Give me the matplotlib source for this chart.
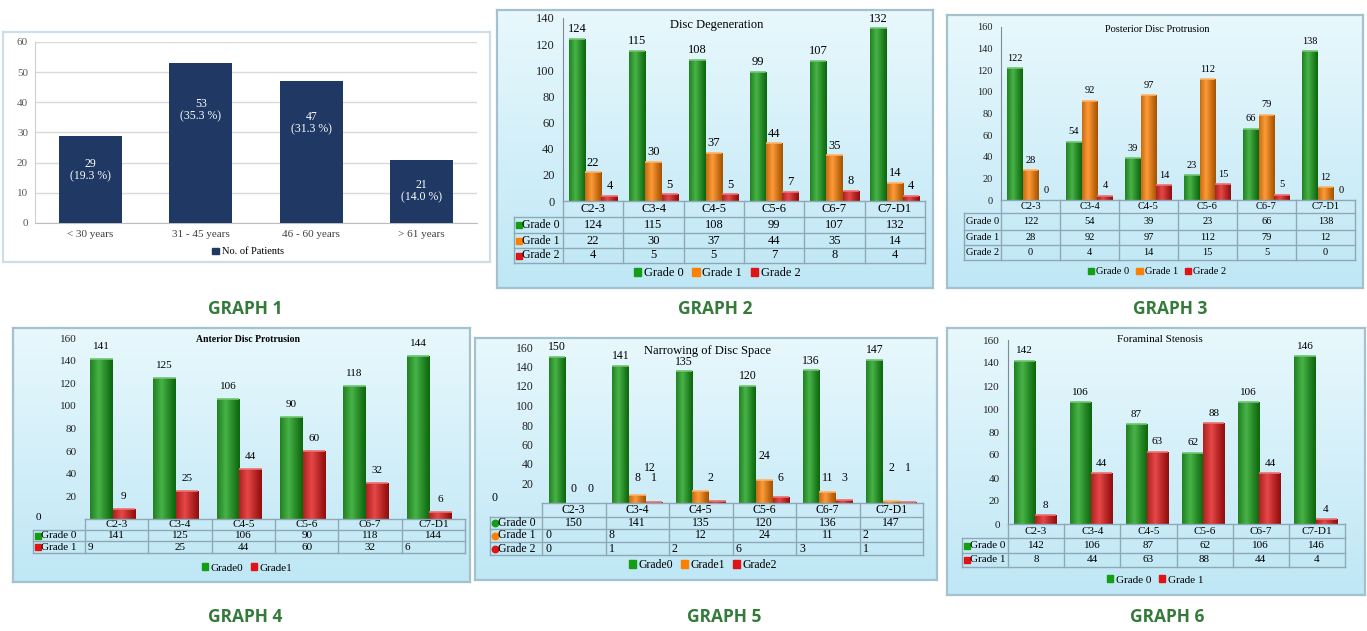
import numpy as np
import matplotlib
matplotlib.use("Agg")
import matplotlib.pyplot as plt
import matplotlib.colors as mcolors
from matplotlib.patches import Patch
from matplotlib.lines import Line2D
from matplotlib.transforms import Affine2D

# ---------------- data ----------------
age_groups = ["< 30 years", "31 - 45 years", "46 - 60 years", "> 61 years"]
patients = [29, 53, 47, 21]
patients_pct = [19.3, 35.3, 31.3, 14.0]

levels = ["C2-3", "C3-4", "C4-5", "C5-6", "C6-7", "C7-D1"]

degen_g0 = [124, 115, 108, 99, 107, 132]
degen_g1 = [22, 30, 37, 44, 35, 14]
degen_g2 = [4, 5, 5, 7, 8, 4]

post_g0 = [122, 54, 39, 23, 66, 138]
post_g1 = [28, 92, 97, 112, 79, 12]
post_g2 = [0, 4, 14, 15, 5, 0]

ant_g0 = [141, 125, 106, 90, 118, 144]
ant_g1 = [9, 25, 44, 60, 32, 6]

narrow_g0 = [150, 141, 135, 120, 136, 147]
narrow_g1 = [0, 8, 12, 24, 11, 2]
narrow_g2 = [0, 1, 2, 6, 3, 1]

foram_g0 = [142, 106, 87, 62, 106, 146]
foram_g1 = [8, 44, 63, 88, 44, 4]

# ---------------- figure helpers ----------------
W, H = 1367, 631
fig = plt.figure(figsize=(W / 100, H / 100), dpi=100)
fig.patch.set_facecolor("white")
PX = Affine2D().scale(1 / W, -1 / H).translate(0, 1) + fig.transFigure

SERIF = "Liberation Serif"
GREEN, ORANGE, RED = "#149e14", "#ff7f00", "#e01414"
LINE = "#8ea9b5"


def frac_rect(x0, y0, x1, y1):
    return [x0 / W, 1 - y1 / H, (x1 - x0) / W, (y1 - y0) / H]


def panel_bg(box, plain=False):
    ax = fig.add_axes(frac_rect(*box), zorder=0)
    if plain:
        ax.set_facecolor("white")
        edge = "#cfdde6"
    else:
        g = np.linspace(0, 1, 256)[:, None, None]
        top = np.array(mcolors.to_rgb("#e8f8fd"))
        bot = np.array(mcolors.to_rgb("#bfe7f5"))
        img = top + (bot - top) * g
        ax.imshow(img, aspect="auto", extent=(0, 1, 0, 1))
        edge = "#a3c2ce"
    ax.set_xlim(0, 1)
    ax.set_ylim(0, 1)
    ax.set_xticks([])
    ax.set_yticks([])
    for s in ax.spines.values():
        s.set_color(edge)
        s.set_linewidth(1.6)
    return ax


def shaded_bar(ax, x, h, w, color):
    patch = ax.bar(x, h, w, color=color, zorder=3, linewidth=0)[0]
    if h <= 0:
        return
    base = np.array(mcolors.to_rgb(color))
    t = np.linspace(0, 1, 48)
    prof = np.clip(1 - np.abs(t - 0.38) / 0.62, 0, 1) ** 1.1
    dark = base * 0.65
    light = base + (1 - base) * 0.22
    cols = dark[None, :] + (light - dark)[None, :] * prof[:, None]
    im = ax.imshow(cols[None, :, :], extent=(x - w / 2, x + w / 2, 0, h),
                   aspect="auto", zorder=3.5, interpolation="bilinear")
    im.set_clip_path(patch)
    ax.plot([x - w / 2, x + w / 2], [h, h], color=base + (1 - base) * 0.4,
            lw=1.2, zorder=4, solid_capstyle="butt")


def hline(x0, x1, y):
    fig.add_artist(Line2D([x0, x1], [y, y], color=LINE, lw=1, transform=PX))


def vline(x, y0, y1):
    fig.add_artist(Line2D([x, x], [y0, y1], color=LINE, lw=1, transform=PX))


def ptext(x, y, s, **kw):
    kw.setdefault("family", SERIF)
    kw.setdefault("va", "center")
    fig.text(x, y, s, transform=PX, **kw)


def grade_chart(box, plot, ymax, title, title_xy, series, colors, row_names,
                legend_names, legend_xy, table_left, rows, fs=9, bar_w=0.27,
                shift=0.0, spine=True, label_off=7, zero_label=None,
                cell_align=None, marker="s", title_weight="normal",
                label_pos=None, title_fs=None, row_fs=None):
    panel_bg(box)
    x0, ytop, x1, ybot = plot
    ax = fig.add_axes(frac_rect(x0, ytop, x1, ybot), zorder=1)
    ax.set_facecolor("none")
    n = len(series)
    xs = np.arange(len(levels))
    for k, (vals, c) in enumerate(zip(series, colors)):
        pos = xs + shift + (k - (n - 1) / 2) * bar_w
        for i, (p, v) in enumerate(zip(pos, vals)):
            shaded_bar(ax, p, v, bar_w, c)
            if label_pos is not None and label_pos[k] is not None:
                dx, ly = label_pos[k][i]
                ax.text(p + dx, ly, str(v), ha="center", va="center",
                        family=SERIF, fontsize=fs, zorder=5)
            else:
                ax.annotate(str(v), (p, v), xytext=(0, label_off),
                            textcoords="offset points", ha="center",
                            va="center", family=SERIF, fontsize=fs, zorder=5)
    ax.set_xlim(-0.5, len(levels) - 0.5)
    ax.set_ylim(0, ymax)
    ticks = list(range(0, ymax + 1, 20))
    ax.set_yticks(ticks)
    labels = [str(t) for t in ticks]
    if zero_label is not None:
        labels[0] = ""
        ptext(zero_label[0], zero_label[1], "0", fontsize=fs, ha="center")
    ax.set_yticklabels(labels, family=SERIF, fontsize=fs, color="#222222")
    ax.set_xticks([])
    ax.tick_params(axis="y", length=0, pad=6)
    for s in ("top", "right", "bottom"):
        ax.spines[s].set_visible(False)
    ax.spines["left"].set_visible(spine)
    ax.spines["left"].set_color("#7d8c94")

    ptext(title_xy[0], title_xy[1], title, fontsize=title_fs or fs,
          ha="center", weight=title_weight)

    # data table under the bars
    rfs = row_fs or fs
    colw = (x1 - x0) / len(levels)
    cx = [x0 + i * colw for i in range(len(levels) + 1)]
    hline(x0, x1, rows[0])
    for r in rows[1:]:
        hline(table_left, x1, r)
    for c in cx:
        vline(c, rows[0], rows[-1])
    vline(table_left, rows[1], rows[-1])
    hy = (rows[0] + rows[1]) / 2
    for i, lv in enumerate(levels):
        ptext(cx[i] + colw / 2, hy, lv, fontsize=fs, ha="center")
    for r, (name, vals, c) in enumerate(zip(row_names, series, colors)):
        ry = (rows[r + 1] + rows[r + 2]) / 2
        tx = table_left + 2
        if marker is not None:
            fig.add_artist(Line2D([tx + 3], [ry], marker=marker, color=c,
                                  markersize=rfs * 0.55, transform=PX, lw=0))
            tx += 6
        ptext(tx, ry, name, fontsize=rfs, ha="left")
        for i, v in enumerate(vals):
            al = "c" if cell_align is None else cell_align[r][i]
            if al == "l":
                ptext(cx[i] + 3, ry, str(v), fontsize=fs, ha="left")
            else:
                ptext(cx[i] + colw / 2, ry, str(v), fontsize=fs, ha="center")

    handles = [Patch(color=c) for c in colors]
    fig.legend(handles, legend_names, loc="center",
               bbox_to_anchor=(legend_xy[0] / W, 1 - legend_xy[1] / H),
               ncol=len(colors), frameon=False,
               prop={"family": SERIF, "size": fs}, handlelength=0.6,
               handleheight=0.6, handletextpad=0.2, columnspacing=0.7,
               borderpad=0, borderaxespad=0)
    return ax


# ---------------- graph 1: age distribution ----------------
panel_bg((3, 32, 490, 262), plain=True)
ax1 = fig.add_axes(frac_rect(35, 42, 477, 223), zorder=1)
ax1.set_facecolor("none")
x1pos = np.arange(len(age_groups))
ax1.bar(x1pos, patients, 0.57, color="#1f3864", zorder=3)
inner_y = [17.5, 37.5, 33, 10.5]
for p, v, pc, ly in zip(x1pos, patients, patients_pct, inner_y):
    ax1.text(p, ly, f"{v}\n({pc:.1f} %)", ha="center", va="center",
             color="white", family=SERIF, fontsize=8.5, linespacing=1.05,
             zorder=4)
ax1.set_xlim(-0.5, 3.5)
ax1.set_ylim(0, 60)
ax1.set_yticks(range(0, 61, 10))
ax1.set_yticklabels([str(t) for t in range(0, 61, 10)], family=SERIF,
                    fontsize=8, color="#595959")
ax1.set_xticks(x1pos)
ax1.set_xticklabels(age_groups, family=SERIF, fontsize=8, color="#404040")
ax1.tick_params(length=0, pad=5)
ax1.grid(axis="y", color="#d9d9d9", lw=1, zorder=0)
for s in ("top", "right"):
    ax1.spines[s].set_visible(False)
ax1.spines["left"].set_color("#d0d0d0")
ax1.spines["bottom"].set_color("#bfbfbf")
fig.legend([Patch(color="#1f3864")], ["No. of Patients"], loc="center",
           bbox_to_anchor=(248 / W, 1 - 252 / H), frameon=False,
           prop={"family": SERIF, "size": 7.5}, handlelength=0.6,
           handleheight=0.6, handletextpad=0.3, borderpad=0, borderaxespad=0)

# ---------------- graph 2: disc degeneration ----------------
grade_chart((497, 10, 933, 288), (563, 18, 925, 201), 140, "Disc Degeneration",
            (717, 25), [degen_g0, degen_g1, degen_g2], [GREEN, ORANGE, RED],
            ["Grade 0", "Grade 1", "Grade 2"],
            ["Grade 0", "Grade 1", "Grade 2"], (717, 273), 514,
            [201, 217, 233, 248, 263], fs=9, bar_w=0.27, label_off=7,
            row_fs=8.5)

# ---------------- graph 3: posterior disc protrusion ----------------
grade_chart((947, 15, 1363, 288), (1001, 27, 1355, 200), 160,
            "Posterior Disc Protrusion", (1157, 30),
            [post_g0, post_g1, post_g2], [GREEN, ORANGE, RED],
            ["Grade 0", "Grade 1", "Grade 2"],
            ["Grade 0", "Grade 1", "Grade 2"], (1157, 272), 964,
            [200, 213, 230, 245, 260], fs=7.5, bar_w=0.27, label_off=7,
            marker=None)

# ---------------- graph 4: anterior disc protrusion ----------------
grade_chart((13, 328, 470, 582), (85, 338, 465, 519), 160,
            "Anterior Disc Protrusion", (248, 339), [ant_g0, ant_g1],
            [GREEN, RED], ["Grade 0", "Grade 1"], ["Grade0", "Grade1"],
            (247, 568), 33, [519, 530, 541, 553], fs=8, bar_w=0.355,
            shift=-0.065, spine=False, label_off=9, zero_label=(38, 517),
            cell_align=[["c"] * 6, ["l", "c", "c", "c", "c", "l"]],
            title_weight="bold", title_fs=7)

# ---------------- graph 5: narrowing of disc space ----------------
narrow_label_pos = [
    None,
    [(0, 14), (0, 26), (-0.8, 36), (0, 48), (0, 26), (0, 36)],
    [(0, 14), (0, 26), (-0.1, 26), (0, 26), (0, 26), (0, 36)],
]
grade_chart((475, 338, 937, 580), (542, 347, 923, 503), 160,
            "Narrowing of Disc Space", (708, 351),
            [narrow_g0, narrow_g1, narrow_g2], [GREEN, ORANGE, RED],
            ["Grade 0", "Grade 1", "Grade 2"],
            ["Grade0", "Grade1", "Grade2"], (703, 565), 490,
            [503, 517, 529, 542, 555], fs=8.5, bar_w=0.26, spine=False,
            label_off=7, zero_label=(495, 498), marker="o",
            cell_align=[["c"] * 6, ["l", "l", "c", "c", "c", "l"], ["l"] * 6],
            label_pos=narrow_label_pos, title_fs=9)

# ---------------- graph 6: foraminal stenosis ----------------
grade_chart((947, 328, 1365, 595), (1008, 340, 1345, 524), 160,
            "Foraminal Stenosis", (1160, 340), [foram_g0, foram_g1],
            [GREEN, RED], ["Grade 0", "Grade 1"], ["Grade 0", "Grade 1"],
            (1155, 580), 962, [524, 538, 553, 567], fs=8, bar_w=0.375,
            shift=-0.025, label_off=7)

# ---------------- captions ----------------
captions = [("GRAPH 1", 245, 309), ("GRAPH 2", 715, 309), ("GRAPH 3", 1170, 309),
            ("GRAPH 4", 245, 617), ("GRAPH 5", 724, 617), ("GRAPH 6", 1167, 617)]
for txt, cx_, cy_ in captions:
    fig.text(cx_, cy_, txt, transform=PX, ha="center", va="center",
             family="Open Sans", weight="bold", fontsize=12.5, color="#347a3a")

fig.savefig("out.png", dpi=100, facecolor="white")
